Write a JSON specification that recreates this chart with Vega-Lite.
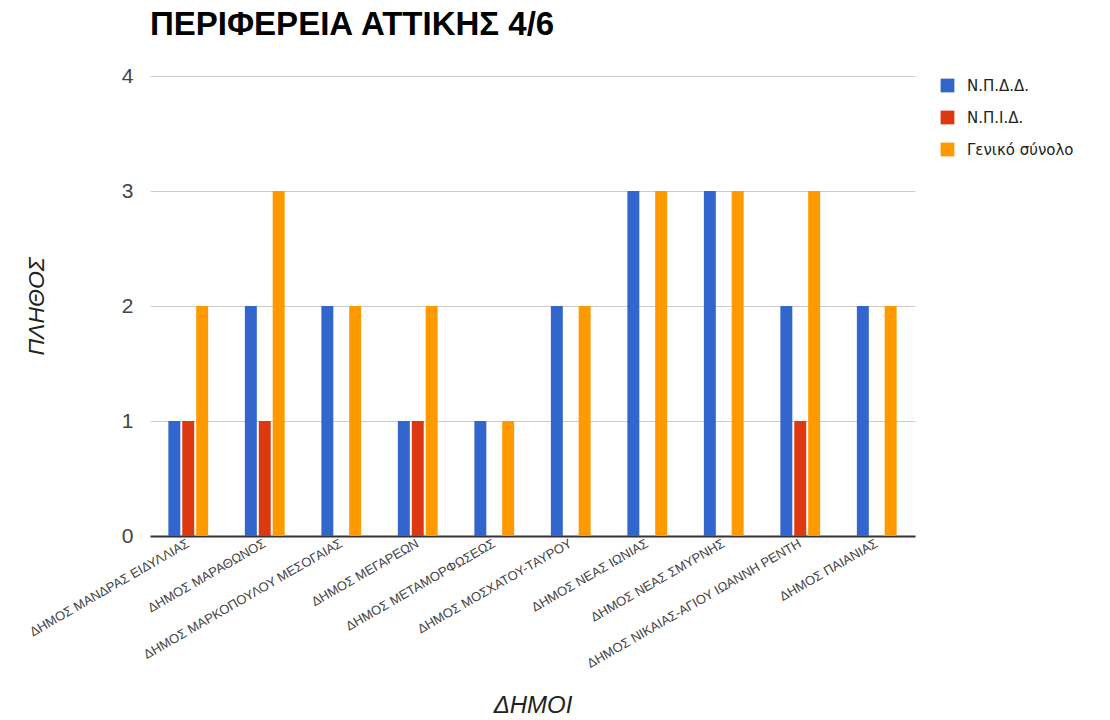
{
  "$schema": "https://vega.github.io/schema/vega-lite/v6.json",
  "autosize": {"type": "none"},
  "padding": {"left": 150, "top": 76, "right": 195, "bottom": 184},
  "width": 765,
  "height": 460,
  "title": {"text": "ΠΕΡΙΦΕΡΕΙΑ ΑΤΤΙΚΗΣ 4/6", "anchor": "start", "frame": "group", "font": "Liberation Sans", "fontSize": 33, "fontWeight": "bold", "color": "#000000", "offset": 23},
  "data": {"values": [
    {"d": "ΔΗΜΟΣ ΜΑΝΔΡΑΣ ΕΙΔΥΛΛΙΑΣ", "s": "Ν.Π.Δ.Δ.", "v": 1},
    {"d": "ΔΗΜΟΣ ΜΑΝΔΡΑΣ ΕΙΔΥΛΛΙΑΣ", "s": "Ν.Π.Ι.Δ.", "v": 1},
    {"d": "ΔΗΜΟΣ ΜΑΝΔΡΑΣ ΕΙΔΥΛΛΙΑΣ", "s": "Γενικό σύνολο", "v": 2},
    {"d": "ΔΗΜΟΣ ΜΑΡΑΘΩΝΟΣ", "s": "Ν.Π.Δ.Δ.", "v": 2},
    {"d": "ΔΗΜΟΣ ΜΑΡΑΘΩΝΟΣ", "s": "Ν.Π.Ι.Δ.", "v": 1},
    {"d": "ΔΗΜΟΣ ΜΑΡΑΘΩΝΟΣ", "s": "Γενικό σύνολο", "v": 3},
    {"d": "ΔΗΜΟΣ ΜΑΡΚΟΠΟΥΛΟΥ ΜΕΣΟΓΑΙΑΣ", "s": "Ν.Π.Δ.Δ.", "v": 2},
    {"d": "ΔΗΜΟΣ ΜΑΡΚΟΠΟΥΛΟΥ ΜΕΣΟΓΑΙΑΣ", "s": "Ν.Π.Ι.Δ.", "v": 0},
    {"d": "ΔΗΜΟΣ ΜΑΡΚΟΠΟΥΛΟΥ ΜΕΣΟΓΑΙΑΣ", "s": "Γενικό σύνολο", "v": 2},
    {"d": "ΔΗΜΟΣ ΜΕΓΑΡΕΩΝ", "s": "Ν.Π.Δ.Δ.", "v": 1},
    {"d": "ΔΗΜΟΣ ΜΕΓΑΡΕΩΝ", "s": "Ν.Π.Ι.Δ.", "v": 1},
    {"d": "ΔΗΜΟΣ ΜΕΓΑΡΕΩΝ", "s": "Γενικό σύνολο", "v": 2},
    {"d": "ΔΗΜΟΣ ΜΕΤΑΜΟΡΦΩΣΕΩΣ", "s": "Ν.Π.Δ.Δ.", "v": 1},
    {"d": "ΔΗΜΟΣ ΜΕΤΑΜΟΡΦΩΣΕΩΣ", "s": "Ν.Π.Ι.Δ.", "v": 0},
    {"d": "ΔΗΜΟΣ ΜΕΤΑΜΟΡΦΩΣΕΩΣ", "s": "Γενικό σύνολο", "v": 1},
    {"d": "ΔΗΜΟΣ ΜΟΣΧΑΤΟΥ-ΤΑΥΡΟΥ", "s": "Ν.Π.Δ.Δ.", "v": 2},
    {"d": "ΔΗΜΟΣ ΜΟΣΧΑΤΟΥ-ΤΑΥΡΟΥ", "s": "Ν.Π.Ι.Δ.", "v": 0},
    {"d": "ΔΗΜΟΣ ΜΟΣΧΑΤΟΥ-ΤΑΥΡΟΥ", "s": "Γενικό σύνολο", "v": 2},
    {"d": "ΔΗΜΟΣ ΝΕΑΣ ΙΩΝΙΑΣ", "s": "Ν.Π.Δ.Δ.", "v": 3},
    {"d": "ΔΗΜΟΣ ΝΕΑΣ ΙΩΝΙΑΣ", "s": "Ν.Π.Ι.Δ.", "v": 0},
    {"d": "ΔΗΜΟΣ ΝΕΑΣ ΙΩΝΙΑΣ", "s": "Γενικό σύνολο", "v": 3},
    {"d": "ΔΗΜΟΣ ΝΕΑΣ ΣΜΥΡΝΗΣ", "s": "Ν.Π.Δ.Δ.", "v": 3},
    {"d": "ΔΗΜΟΣ ΝΕΑΣ ΣΜΥΡΝΗΣ", "s": "Ν.Π.Ι.Δ.", "v": 0},
    {"d": "ΔΗΜΟΣ ΝΕΑΣ ΣΜΥΡΝΗΣ", "s": "Γενικό σύνολο", "v": 3},
    {"d": "ΔΗΜΟΣ ΝΙΚΑΙΑΣ-ΑΓΙΟΥ ΙΩΑΝΝΗ ΡΕΝΤΗ", "s": "Ν.Π.Δ.Δ.", "v": 2},
    {"d": "ΔΗΜΟΣ ΝΙΚΑΙΑΣ-ΑΓΙΟΥ ΙΩΑΝΝΗ ΡΕΝΤΗ", "s": "Ν.Π.Ι.Δ.", "v": 1},
    {"d": "ΔΗΜΟΣ ΝΙΚΑΙΑΣ-ΑΓΙΟΥ ΙΩΑΝΝΗ ΡΕΝΤΗ", "s": "Γενικό σύνολο", "v": 3},
    {"d": "ΔΗΜΟΣ ΠΑΙΑΝΙΑΣ", "s": "Ν.Π.Δ.Δ.", "v": 2},
    {"d": "ΔΗΜΟΣ ΠΑΙΑΝΙΑΣ", "s": "Ν.Π.Ι.Δ.", "v": 0},
    {"d": "ΔΗΜΟΣ ΠΑΙΑΝΙΑΣ", "s": "Γενικό σύνολο", "v": 2}
  ]},
  "mark": {"type": "bar", "cornerRadius": 0},
  "encoding": {
    "x": {"field": "d", "type": "nominal", "sort": null,
      "scale": {"paddingInner": 0.48, "paddingOuter": 0.24},
      "axis": {"title": "ΔΗΜΟΙ", "titleFont": "Liberation Sans", "titleFontSize": 24, "titleFontStyle": "italic", "titleFontWeight": "normal", "titleColor": "#222222", "titlePadding": 23,
        "labelAngle": -30, "labelAlign": "right", "labelBaseline": "middle", "labelFont": "Liberation Sans", "labelFontSize": 13, "labelColor": "#444444", "labelPadding": 6,
        "ticks": false, "domainColor": "#333333", "domainWidth": 2, "grid": false, "labelLimit": 400, "labelOverlap": false}},
    "xOffset": {"field": "s", "type": "nominal", "sort": ["Ν.Π.Δ.Δ.", "Ν.Π.Ι.Δ.", "Γενικό σύνολο"], "scale": {"paddingInner": 0.14}},
    "y": {"field": "v", "type": "quantitative",
      "scale": {"domain": [0, 4]},
      "axis": {"title": "ΠΛΗΘΟΣ", "titleFont": "Liberation Sans", "titleFontSize": 23, "titleFontStyle": "italic", "titleFontWeight": "normal", "titleColor": "#222222", "titlePadding": 73,
        "values": [0, 1, 2, 3, 4], "format": "d", "labelOverlap": false, "labelFont": "Liberation Sans", "labelFontSize": 21, "labelColor": "#444444", "labelPadding": 17,
        "ticks": false, "domain": false, "gridColor": "#cccccc"}},
    "color": {"field": "s", "type": "nominal", "sort": ["Ν.Π.Δ.Δ.", "Ν.Π.Ι.Δ.", "Γενικό σύνολο"],
      "scale": {"domain": ["Ν.Π.Δ.Δ.", "Ν.Π.Ι.Δ.", "Γενικό σύνολο"], "range": ["#3366cc", "#dc3912", "#ff9900"]},
      "legend": {"title": null, "orient": "none", "legendX": 790, "legendY": 2, "symbolType": "square", "symbolSize": 190, "symbolStrokeWidth": 0, "labelFont": "DejaVu Sans", "labelFontSize": 15, "labelColor": "#222222", "rowPadding": 16, "labelOffset": 12, "padding": 0}}
  },
  "config": {"view": {"stroke": null}}
}
